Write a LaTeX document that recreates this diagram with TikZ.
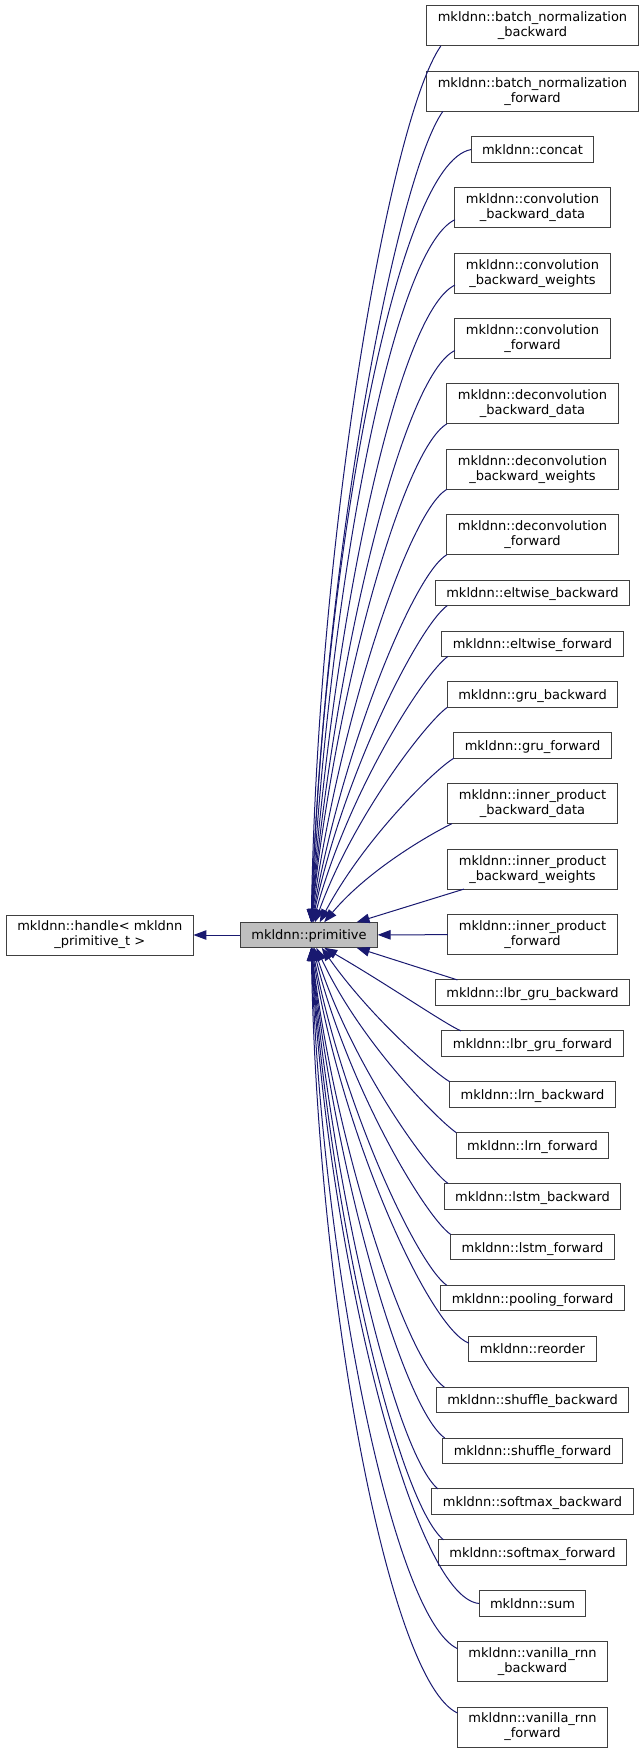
\documentclass[tikz,border=0pt]{standalone}
\usepackage{fontspec}
\setmainfont{DejaVu Sans}
\usepackage{xcolor}
\definecolor{edgeblue}{RGB}{25,25,112}
\definecolor{boxgray}{RGB}{64,64,64}
\definecolor{basegray}{RGB}{191,191,191}
\usepackage{tikz}
\usetikzlibrary{positioning}
\usetikzlibrary{arrows.meta}
\tikzset{
    common/.style={draw=boxgray, line width=1pt, rectangle, outer sep=0pt, inner xsep=11pt, font=\fontsize{13}{15}\selectfont},
    oneline/.style={common, minimum height=25.5pt, text depth=0pt},
    twoline/.style={common, minimum height=40pt, align=center},
    baseclass/.style={oneline, fill=basegray},
    inherit/.style={draw=edgeblue, line width=1pt, -{Triangle[length=13pt, width=9.5pt]}},
    fromabove/.style={out looseness=.25, in looseness=1.15},
    frombelow/.style={out looseness=.25, in looseness=1.15}
}

\begin{document}
\begin{tikzpicture}[x=1pt, y=1pt, node distance=25.4pt]
            \useasboundingbox (0,0) rectangle (644,-1752);

            \node[baseclass] (prim) at (309,-935) {mkldnn::primitive};
            \node[twoline, left=47pt of prim] (handle) {mkldnn::handle< mkldnn\\\_primitive\_t >};

            \node[twoline] (bn-bwd) at (532.5,-26) {mkldnn::batch\_normalization\\\_backward};
            \node[twoline, below=of bn-bwd] (bn-fwd) {mkldnn::batch\_normalization\\\_forward};
            \node[oneline, below=of bn-fwd] (concat) {mkldnn::concat};
            \node[twoline, below=of concat] (conv-bwd-data) {mkldnn::convolution\\\_backward\_data};
            \node[twoline, below=of conv-bwd-data] (conv-bwd-wts) {mkldnn::convolution\\\_backward\_weights};
            \node[twoline, below=of conv-bwd-wts] (conv-fwd) {mkldnn::convolution\\\_forward};
            \node[twoline, below=of conv-fwd] (deconv-bwd-data) {mkldnn::deconvolution\\\_backward\_data};
            \node[twoline, below=of deconv-bwd-data] (deconv-bwd-wts) {mkldnn::deconvolution\\\_backward\_weights};
            \node[twoline, below=of deconv-bwd-wts] (deconv-fwd) {mkldnn::deconvolution\\\_forward};
            \node[oneline, below=of deconv-fwd] (eltwise-bwd) {mkldnn::eltwise\_backward};
            \node[oneline, below=of eltwise-bwd] (eltwise-fwd) {mkldnn::eltwise\_forward};
            \node[oneline, below=of eltwise-fwd] (gru-bwd) {mkldnn::gru\_backward};
            \node[oneline, below=of gru-bwd] (gru-fwd) {mkldnn::gru\_forward};
            \node[twoline, below=of gru-fwd] (ip-bwd-data) {mkldnn::inner\_product\\\_backward\_data};
            \node[twoline, below=of ip-bwd-data] (ip-bwd-wts) {mkldnn::inner\_product\\\_backward\_weights};
            \node[twoline, below=of ip-bwd-wts] (ip-fwd) {mkldnn::inner\_product\\\_forward};
            \node[oneline, below=of ip-fwd] (lbr-gru-bwd) {mkldnn::lbr\_gru\_backward};
            \node[oneline, below=of lbr-gru-bwd] (lbr-gru-fwd) {mkldnn::lbr\_gru\_forward};
            \node[oneline, below=of lbr-gru-fwd] (lrn-bwd) {mkldnn::lrn\_backward};
            \node[oneline, below=of lrn-bwd] (lrn-fwd) {mkldnn::lrn\_forward};
            \node[oneline, below=of lrn-fwd] (lstm-bwd) {mkldnn::lstm\_backward};
            \node[oneline, below=of lstm-bwd] (lstm-fwd) {mkldnn::lstm\_forward};
            \node[oneline, below=of lstm-fwd] (pooling-fwd) {mkldnn::pooling\_forward};
            \node[oneline, below=of pooling-fwd] (reorder) {mkldnn::reorder};
            \node[oneline, below=of reorder] (shuffle-bwd) {mkldnn::shuffle\_backward};
            \node[oneline, below=of shuffle-bwd] (shuffle-fwd) {mkldnn::shuffle\_forward};
            \node[oneline, below=of shuffle-fwd] (softmax-bwd) {mkldnn::softmax\_backward};
            \node[oneline, below=of softmax-bwd] (softmax-fwd) {mkldnn::softmax\_forward};
            \node[oneline, below=of softmax-fwd] (sum) {mkldnn::sum};
            \node[twoline, below=of sum] (vanilla-rnn-bwd) {mkldnn::vanilla\_rnn\\\_backward};
            \node[twoline, below=of vanilla-rnn-bwd] (vanilla-rnn-fwd) {mkldnn::vanilla\_rnn\\\_forward};

            \draw[inherit] (prim) -- (handle);

            \draw[inherit] ([xshift=14pt]bn-bwd.south west) to[fromabove, out=235, in=89] (prim.80);
            \draw[inherit] ([xshift=16pt]bn-fwd.south west) to[fromabove, out=235, in=88] (prim.80);
            \draw[inherit] (concat.west) to[fromabove, out=190, in=88] (prim.80);
            \draw[inherit] ([yshift=8pt]conv-bwd-data.south west) to[fromabove, out=205, in=87] (prim.80);
            \draw[inherit] ([yshift=8pt]conv-bwd-wts.south west) to[fromabove, out=205, in=86] (prim.80);
            \draw[inherit] ([yshift=8pt]conv-fwd.south west) to[fromabove, out=205, in=85] (prim.80);
            \draw[inherit] (deconv-bwd-data.south west) to[fromabove, out=210, in=84] (prim.80);
            \draw[inherit] (deconv-bwd-wts.south west) to[fromabove, out=210, in=82] (prim.80);
            \draw[inherit] (deconv-fwd.south west) to[fromabove, out=210, in=80] (prim.78);
            \draw[inherit] ([xshift=12pt]eltwise-bwd.south west) to[fromabove, out=215, in=78] (prim.76);
            \draw[inherit] ([xshift=6pt]eltwise-fwd.south west) to[fromabove, out=215, in=75] (prim.72);
            \draw[inherit] (gru-bwd.south west) to[fromabove, out=215, in=70] (prim.65);
            \draw[inherit] (gru-fwd.south west) to[fromabove, out=210, in=62] (prim.50);
            \draw[inherit] ([xshift=4pt]ip-bwd-data.south west) to[fromabove, out=205, in=50] (prim.40);
            \draw[inherit] ([xshift=16pt]ip-bwd-wts.south west) -- (prim.15);
            \draw[inherit] (ip-fwd) -- (prim);

            \draw[inherit] ([xshift=22pt]lbr-gru-bwd.north west) -- (prim.-15);
            \draw[inherit] ([xshift=19pt]lbr-gru-fwd.north west) to[frombelow, out=158, in=-30] (prim.-40);
            \draw[inherit] (lrn-bwd.north west) to[frombelow, out=150, in=-55] (prim.-45);
            \draw[inherit] (lrn-fwd.north west) to[frombelow, out=145, in=-65] (prim.-60);
            \draw[inherit] ([xshift=4pt]lstm-bwd.north west) to[frombelow, out=145, in=-72] (prim.-68);
            \draw[inherit] (lstm-fwd.north west) to[frombelow, out=145, in=-76] (prim.-72);
            \draw[inherit] ([xshift=6pt]pooling-fwd.north west) to[frombelow, out=145, in=-79] (prim.-76);
            \draw[inherit] ([yshift=-7pt]reorder.north west) to[frombelow, out=160, in=-81] (prim.-78);
            \draw[inherit] ([xshift=8pt]shuffle-bwd.north west) to[frombelow, out=145, in=-83] (prim.-80);
            \draw[inherit] ([xshift=2pt]shuffle-fwd.north west) to[frombelow, out=145, in=-84] (prim.-80);
            \draw[inherit] ([xshift=6pt]softmax-bwd.north west) to[frombelow, out=140, in=-85] (prim.-80);
            \draw[inherit] ([xshift=5pt]softmax-fwd.north west) to[frombelow, out=140, in=-86] (prim.-80);
            \draw[inherit] (sum.west) to[frombelow, out=175, in=-87] (prim.-80);
            \draw[inherit] ([yshift=-7pt]vanilla-rnn-bwd.north west) to[frombelow, out=155, in=-88] (prim.-80);
            \draw[inherit] ([yshift=-6pt]vanilla-rnn-fwd.north west) to[frombelow, out=155, in=-89] (prim.-80);
\end{tikzpicture}
\end{document}
